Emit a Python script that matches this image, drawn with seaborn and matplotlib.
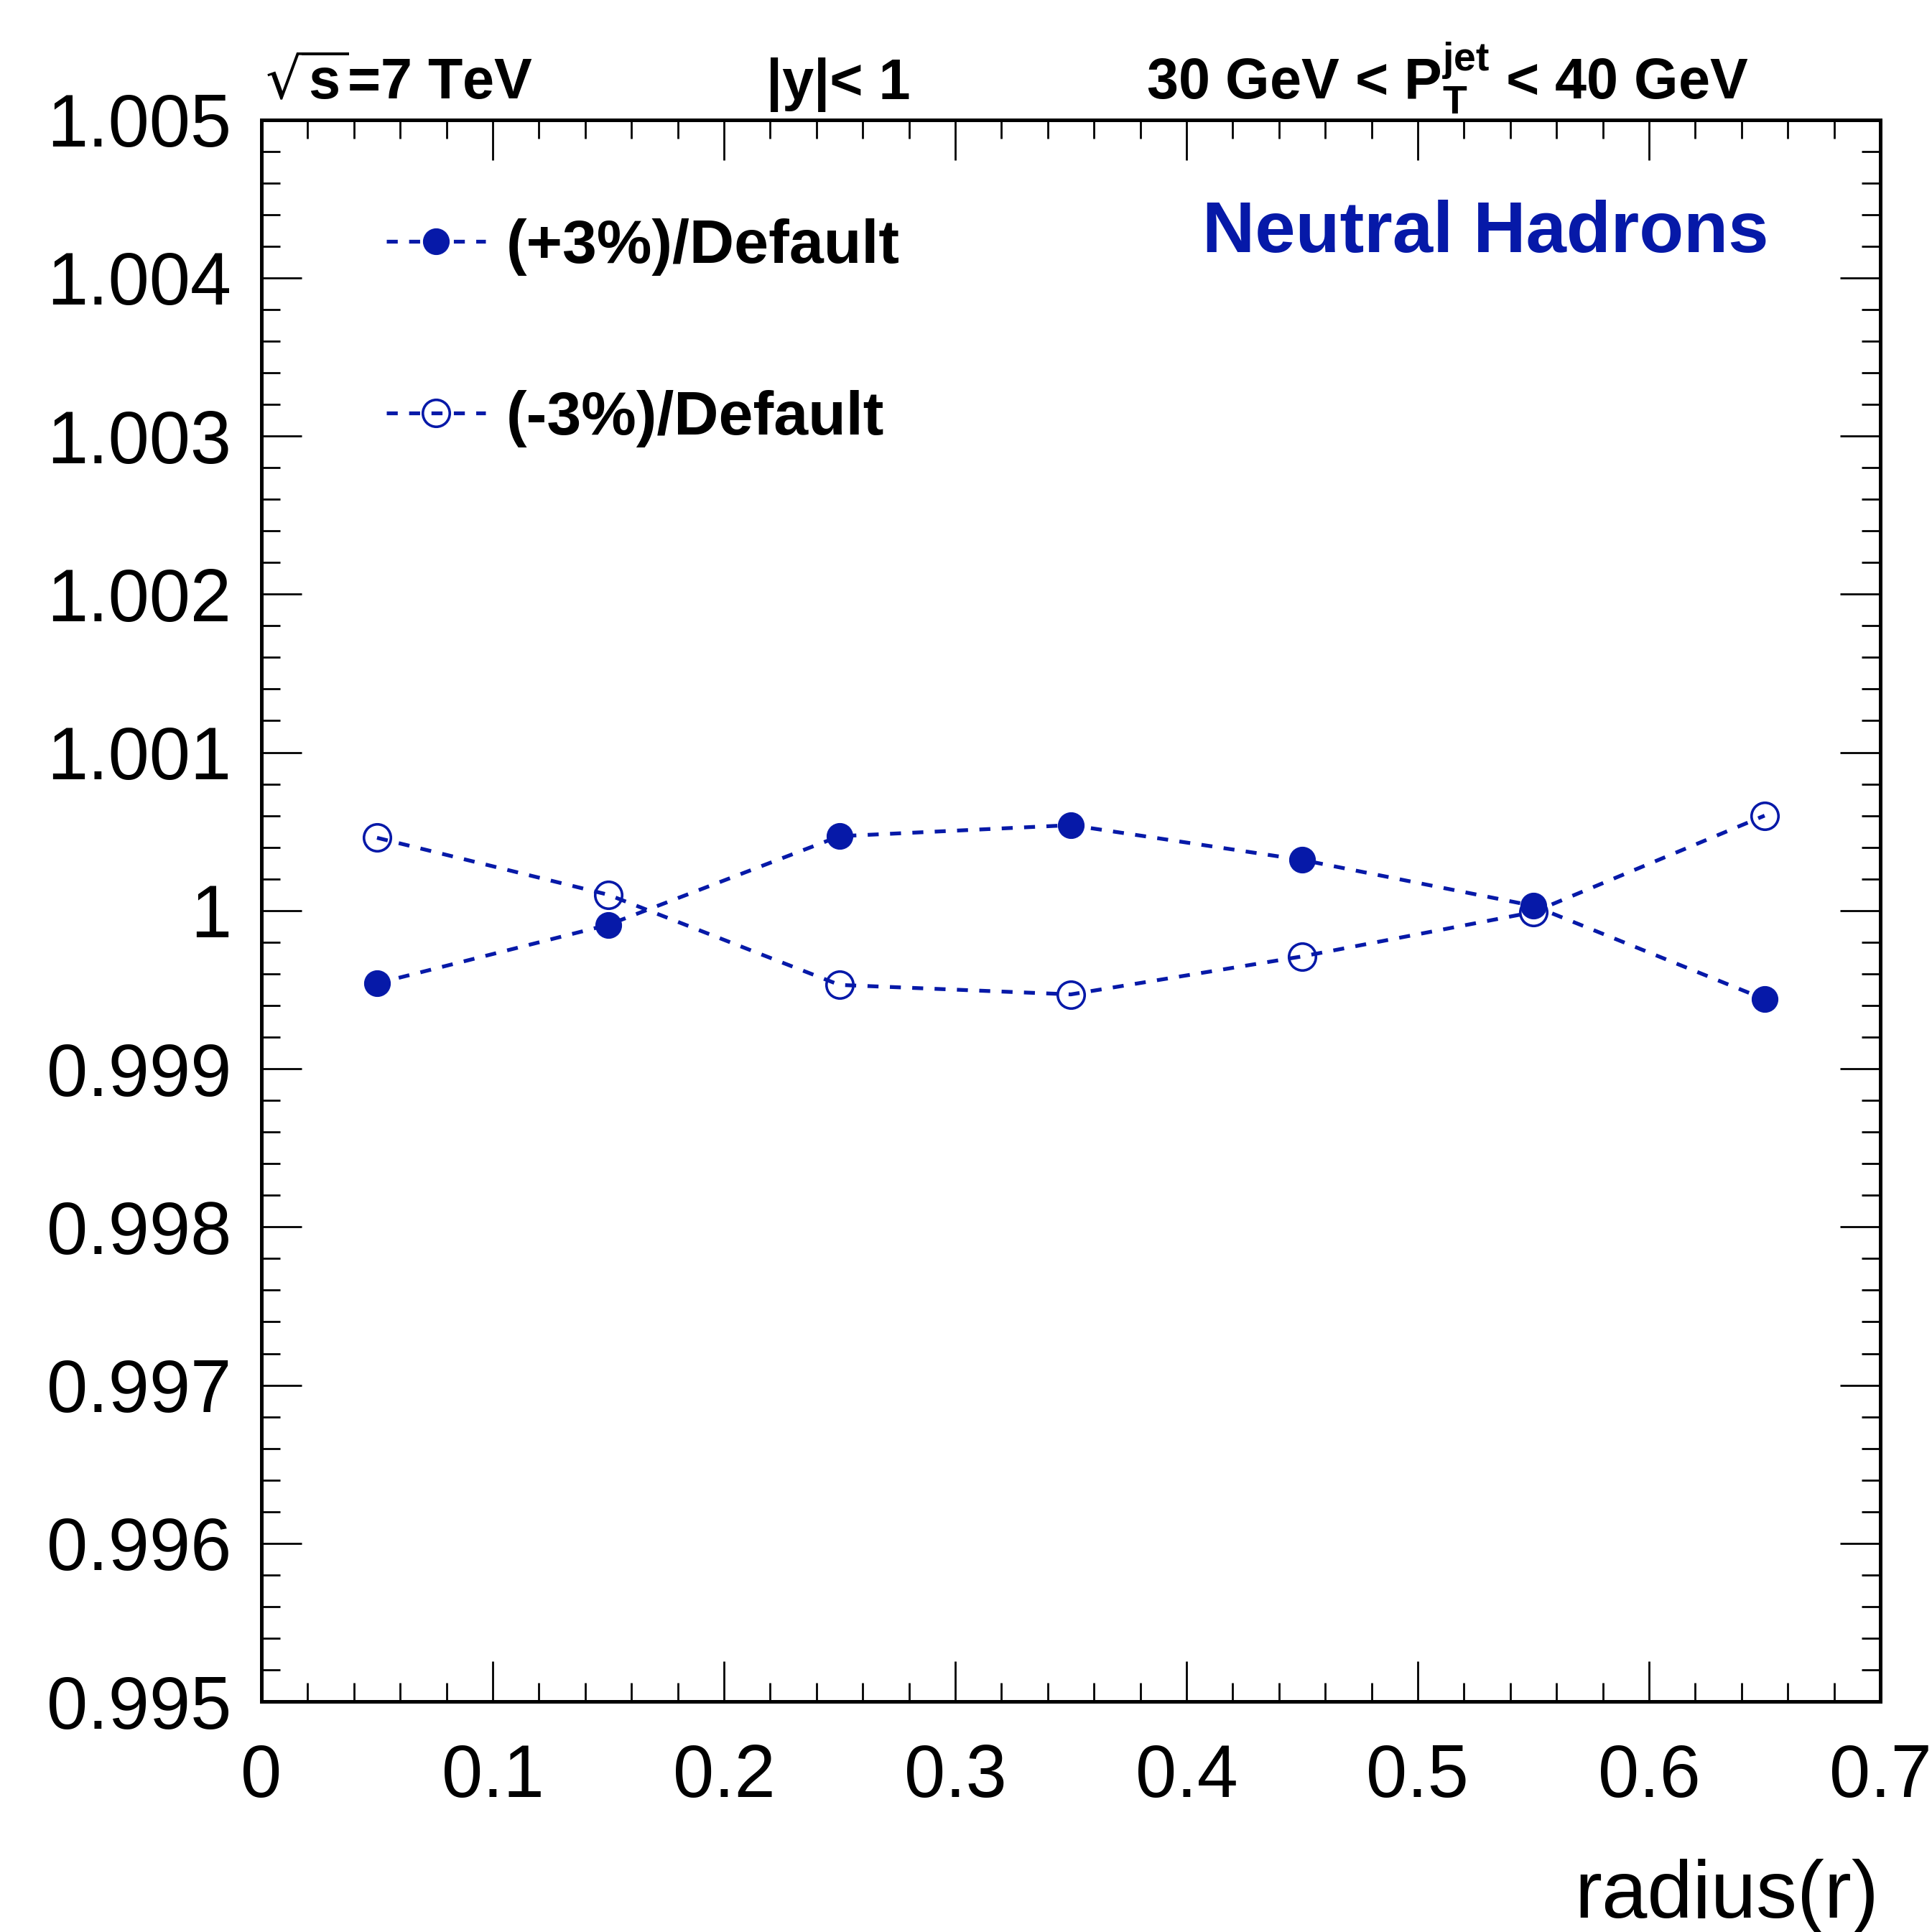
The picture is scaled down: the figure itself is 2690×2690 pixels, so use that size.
import matplotlib
matplotlib.use("Agg")
import matplotlib.pyplot as plt
from matplotlib.ticker import MultipleLocator, FixedFormatter, FixedLocator
import seaborn as sns

# values
radius = [0.05, 0.15, 0.25, 0.35, 0.45, 0.55, 0.65]
plus3 = [0.99954, 0.99991, 1.00047, 1.00054, 1.00032, 1.00003, 0.99944]
minus3 = [1.00046, 1.00010, 0.99953, 0.99947, 0.99971, 0.99999, 1.00060]
labels = ["(+3%)/Default", "(-3%)/Default"]
xticks = [0, 0.1, 0.2, 0.3, 0.4, 0.5, 0.6, 0.7]
xticklabels = ["0", "0.1", "0.2", "0.3", "0.4", "0.5", "0.6", "0.7"]
yticks = [0.995, 0.996, 0.997, 0.998, 0.999, 1.0, 1.001, 1.002, 1.003, 1.004, 1.005]
yticklabels = ["0.995", "0.996", "0.997", "0.998", "0.999", "1", "1.001", "1.002", "1.003", "1.004", "1.005"]

blue = "#0619a8"

sns.set_style("ticks")
plt.rcParams["font.family"] = ["Liberation Sans", "DejaVu Sans"]
plt.rcParams.update({"text.color": "black", "xtick.color": "black",
                     "ytick.color": "black", "axes.labelcolor": "black",
                     "axes.edgecolor": "black"})

fig = plt.figure(figsize=(26.9, 26.9), dpi=100)
ax = fig.add_axes([0.1353, 0.1193, 0.9732 - 0.1353, 0.9381 - 0.1193])

sns.lineplot(x=radius, y=plus3, ax=ax, sort=False, errorbar=None, color=blue,
             linestyle="--", dashes=False, lw=3.8, marker="o", markersize=26,
             markerfacecolor=blue, markeredgecolor=blue, label=labels[0])
sns.lineplot(x=radius, y=minus3, ax=ax, sort=False, errorbar=None, color=blue,
             linestyle="--", dashes=False, lw=3.8, marker="o", markersize=27,
             markerfacecolor="none", markeredgecolor=blue, markeredgewidth=2.6,
             label=labels[1])
for ln in ax.get_lines():
    ln.set_dashes((2.9, 3.0))

ax.set_xlim(0, 0.7)
ax.set_ylim(0.995, 1.005)

ax.xaxis.set_major_locator(FixedLocator(xticks))
ax.xaxis.set_major_formatter(FixedFormatter(xticklabels))
ax.xaxis.set_minor_locator(MultipleLocator(0.02))
ax.yaxis.set_major_locator(FixedLocator(yticks))
ax.yaxis.set_major_formatter(FixedFormatter(yticklabels))
ax.yaxis.set_minor_locator(MultipleLocator(0.0002))

ax.tick_params(which="both", direction="in", top=True, right=True, color="black")
ax.tick_params(which="major", length=40, width=2)
ax.tick_params(which="minor", length=19, width=2)
ax.tick_params(axis="y", which="major", labelsize=74, pad=30)
ax.tick_params(axis="x", which="major", labelsize=74, pad=42)
for s in ax.spines.values():
    s.set_linewidth(3.6)

ax.set_xlabel("")
ax.set_ylabel("")
fig.text(0.9725, 0.0075, "radius(r)", ha="right", va="baseline", fontsize=82)

leg = ax.legend(loc="upper left", bbox_to_anchor=(0.062, 0.953), frameon=False,
                prop={"weight": "bold", "size": 62},
                handlelength=1.6, handletextpad=0.34, labelspacing=1.84,
                borderaxespad=0)

fig.text(0.9153, 0.879, "Neutral Hadrons", ha="right", va="center",
         fontsize=73, fontweight="bold", color=blue)

top = dict(va="baseline", fontsize=57, fontweight="bold")
fig.text(0.1372, 0.9487, r"$\sqrt{\mathregular{s}}$=7 TeV", ha="left", **top)
fig.text(0.3967, 0.9487, "|y|< 1", ha="left", **top)
fig.text(0.5933, 0.9487, r"30 GeV < P$_\mathregular{T}^\mathregular{jet}$ < 40 GeV",
         ha="left", **top)

fig.savefig("out.png", dpi=100, facecolor="white")
